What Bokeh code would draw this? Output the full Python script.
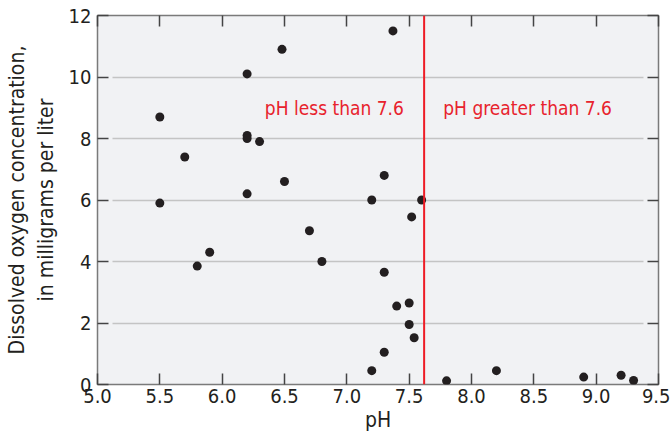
from bokeh.plotting import figure
from bokeh.models import LinearAxis, Span, Label, FixedTicker, ColumnDataSource, CustomJSTickFormatter
from bokeh.embed import file_html
from bokeh.resources import INLINE

ph = [6.48, 6.2, 5.5, 6.2, 6.2, 6.3, 5.7, 6.5, 6.2, 7.3, 7.2, 7.37,
      5.5, 6.7, 5.9, 5.8, 6.8, 7.3, 7.3, 7.2,
      7.6, 7.52, 7.4, 7.5, 7.5, 7.54, 7.8, 8.2, 8.9, 9.2, 9.3]
oxygen = [10.9, 10.1, 8.7, 8.1, 8.0, 7.9, 7.4, 6.6, 6.2, 6.8, 6.0, 11.5,
          5.9, 5.0, 4.3, 3.85, 4.0, 3.65, 1.05, 0.45,
          6.0, 5.45, 2.55, 2.65, 1.95, 1.52, 0.12, 0.45, 0.24, 0.3, 0.13]
x_ticks = [5.0, 5.5, 6.0, 6.5, 7.0, 7.5, 8.0, 8.5, 9.0, 9.5]
y_ticks = [0, 2, 4, 6, 8, 10, 12]
threshold = 7.62
region_labels = ["pH less than 7.6", "pH greater than 7.6"]

FONT = "Liberation Sans Narrow, DejaVu Sans Condensed, sans-serif"
RED = "#e8232d"

p = figure(width=670, height=446, output_backend="svg", toolbar_location=None,
           x_range=(5.0, 9.5), y_range=(0, 12),
           x_axis_label="pH",
           y_axis_label="Dissolved oxygen concentration,\nin milligrams per liter",
           min_border_left=97, min_border_right=12, min_border_top=15, min_border_bottom=62)
p.background_fill_color = "#f1f2f4"
p.border_fill_color = "white"
p.outline_line_color = "#7a7a7a"
p.outline_line_width = 1.5

p.xgrid.grid_line_color = None
p.ygrid.grid_line_color = "#c4c4c4"
p.ygrid.grid_line_width = 1.5
p.ygrid.ticker = FixedTicker(ticks=y_ticks)
try:
    p.ygrid.cross_bounds = (5.12, 9.38)
except Exception:
    pass

def style_axis(ax, labels=True):
    ax.axis_line_color = None
    ax.major_tick_in = 11
    ax.major_tick_out = 0
    ax.major_tick_line_color = "#444444"
    ax.major_tick_line_width = 1.5
    ax.minor_tick_line_color = None
    ax.major_label_text_font = FONT
    ax.major_label_text_font_size = "20px"
    ax.major_label_text_color = "#231f20" if labels else None
    ax.axis_label_text_font = FONT
    ax.axis_label_text_font_size = "21px"
    ax.axis_label_text_font_style = "normal"
    ax.axis_label_text_color = "#231f20"

p.xaxis.ticker = FixedTicker(ticks=x_ticks)
p.xaxis.formatter = CustomJSTickFormatter(code="return tick.toFixed(1);")
p.yaxis.ticker = FixedTicker(ticks=y_ticks)
for ax in p.xaxis + p.yaxis:
    style_axis(ax)
p.xaxis.major_label_standoff = 4
p.yaxis.major_label_standoff = 6
p.xaxis.axis_label_standoff = 2
p.yaxis.axis_label_standoff = 8

top = LinearAxis(ticker=FixedTicker(ticks=x_ticks))
style_axis(top, labels=False)
p.add_layout(top, "above")
right = LinearAxis(ticker=FixedTicker(ticks=y_ticks))
style_axis(right, labels=False)
p.add_layout(right, "right")

src = ColumnDataSource(dict(ph=ph, oxygen=oxygen))
p.scatter("ph", "oxygen", source=src, size=9, color="#231f20", line_color=None)

p.add_layout(Span(location=threshold, dimension="height", line_color="#ee1c25", line_width=2))

for txt, xx in zip(region_labels, [6.9, 8.45]):
    p.add_layout(Label(x=xx, y=9.0, text=txt, text_align="center", text_baseline="middle",
                       text_font=FONT, text_font_size="19px", text_color=RED))

open("out.html", "w").write(file_html(p, INLINE))
